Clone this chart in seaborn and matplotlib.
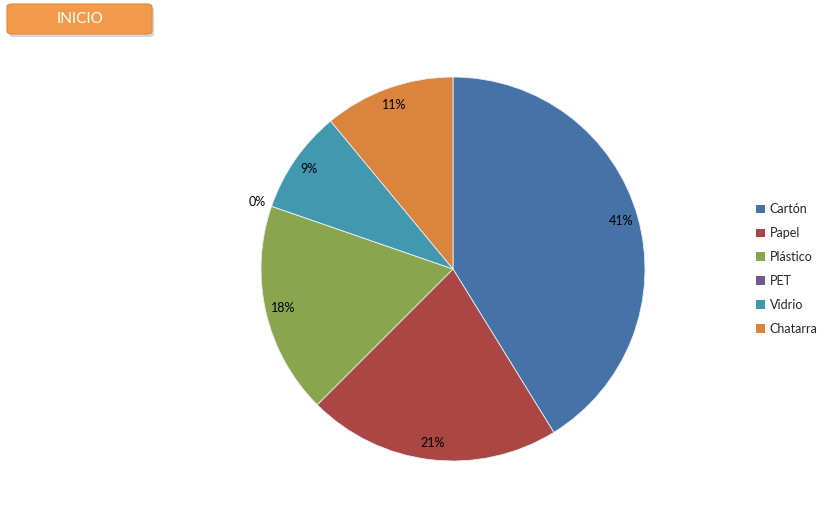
import matplotlib
matplotlib.use("Agg")
import matplotlib.pyplot as plt
import seaborn as sns
import numpy as np
from matplotlib.patches import FancyBboxPatch, Patch

# data (percent of total)
materials = ["Cartón", "Papel", "Plástico", "PET", "Vidrio", "Chatarra"]
shares = [41.2, 21.3, 17.8, 0.0, 8.7, 11.0]
colors = ["#4572A7", "#AA4643", "#89A54E", "#71588F", "#4198AF", "#DB843D"]

sns.set_style("white")
plt.rcParams["font.family"] = ["Lato", "DejaVu Sans"]

fig = plt.figure(figsize=(8.3, 5.05), dpi=100)
ax = fig.add_axes([261 / 830, 44 / 505, 384 / 830, 384 / 505])

wedges, texts, autotexts = ax.pie(
    shares, colors=colors, startangle=90, counterclock=False,
    autopct=lambda p: f"{p:.0f}%", pctdistance=0.91, radius=1,
    wedgeprops=dict(edgecolor="#e8eef5", linewidth=0.6),
    textprops=dict(fontsize=9, color="black"))

# the zero slice gets its label pushed outside the pie, to the left of the edge
for w, t, v in zip(wedges, autotexts, shares):
    if v == 0:
        x, y = t.get_position()
        r = np.hypot(x, y)
        t.set_position((x / r * 1.03, y / r * 1.03 + 0.01))
        t.set_ha("right")

ax.set_xlim(-1, 1)
ax.set_ylim(-1, 1)
ax.set_aspect("equal")
ax.axis("off")

handles = [Patch(facecolor=c, edgecolor="none") for c in colors]
fig.legend(handles, materials, loc="center left", bbox_to_anchor=(0.897, 0.467),
           frameon=False, fontsize=9, handlelength=0.7, handleheight=0.7,
           handletextpad=0.4, labelspacing=0.95)

# orange "INICIO" button in the top-left corner, with a soft shadow
shadow = FancyBboxPatch((9 / 830, 1 - 37 / 505), 145 / 830, 30 / 505,
                        boxstyle="round,pad=0,rounding_size=0.006",
                        transform=fig.transFigure, facecolor="#bbbbbb",
                        edgecolor="none", alpha=0.6)
btn = FancyBboxPatch((7 / 830, 1 - 34 / 505), 145 / 830, 30 / 505,
                     boxstyle="round,pad=0,rounding_size=0.006",
                     transform=fig.transFigure, facecolor="#F39A4A",
                     edgecolor="#E0873A", linewidth=0.8)
fig.patches.extend([shadow, btn])
fig.text(80 / 830, 1 - 19 / 505, "INICIO", color="white", fontsize=11,
         ha="center", va="center")

fig.savefig("out.png", dpi=100)
